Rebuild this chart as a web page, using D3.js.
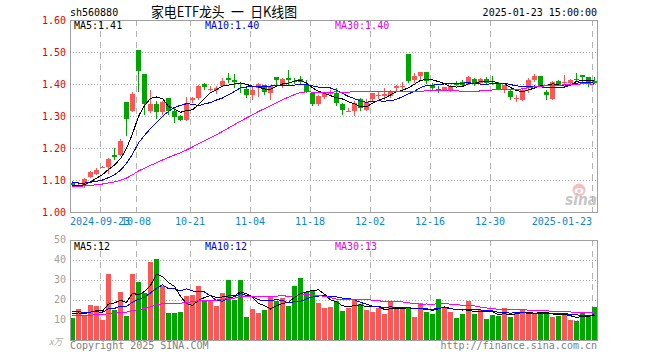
<!DOCTYPE html>
<html>
<head>
<meta charset="utf-8">
<script src="https://cdn.jsdelivr.net/npm/d3@7"></script>
<style>
  body { margin: 0; background: #fff; }
  svg { display: block; }
  text { font-family: "DejaVu Sans Mono", "Liberation Mono", monospace; font-size: 10px; }
</style>
</head>
<body>
<div id="chart"></div>
<script>
// 家电ETF龙头 (sh560880) daily K-line, 2024-09-12 .. 2025-01-23

// daily prices (open / high / low / close)
const openP = [1.092,1.083,1.080,1.109,1.120,1.139,1.141,1.179,1.179,1.344,
  1.315,1.507,1.432,1.315,1.339,1.311,1.356,1.315,1.301,1.286,
  1.351,1.356,1.401,1.381,1.382,1.393,1.418,1.411,1.403,1.385,
  1.365,1.389,1.398,1.372,1.422,1.398,1.419,1.409,1.417,1.397,
  1.372,1.339,1.358,1.371,1.372,1.339,1.314,1.315,1.354,1.320,
  1.354,1.366,1.361,1.361,1.387,1.394,1.495,1.412,1.426,1.437,
  1.398,1.385,1.380,1.377,1.401,1.407,1.400,1.417,1.403,1.417,
  1.404,1.403,1.385,1.379,1.355,1.351,1.388,1.411,1.426,1.375,
  1.354,1.410,1.405,1.403,1.417,1.429,1.421,1.408];
const highP = [1.097,1.087,1.106,1.127,1.137,1.143,1.169,1.200,1.228,1.344,
  1.374,1.507,1.432,1.381,1.346,1.346,1.356,1.325,1.304,1.359,
  1.359,1.398,1.403,1.393,1.394,1.419,1.434,1.431,1.403,1.387,
  1.393,1.403,1.398,1.398,1.422,1.419,1.445,1.419,1.426,1.413,
  1.372,1.367,1.375,1.382,1.388,1.341,1.325,1.348,1.356,1.353,
  1.372,1.377,1.387,1.380,1.398,1.405,1.495,1.434,1.439,1.437,
  1.403,1.393,1.390,1.398,1.410,1.413,1.424,1.419,1.419,1.421,
  1.424,1.405,1.398,1.382,1.367,1.388,1.419,1.431,1.426,1.380,
  1.410,1.413,1.429,1.416,1.434,1.429,1.421,1.421];
const lowP = [1.080,1.079,1.075,1.106,1.117,1.136,1.120,1.164,1.176,1.237,
  1.312,1.374,1.304,1.310,1.290,1.304,1.302,1.278,1.283,1.283,
  1.340,1.351,1.380,1.377,1.370,1.391,1.403,1.388,1.372,1.356,
  1.351,1.359,1.365,1.351,1.398,1.387,1.398,1.401,1.398,1.372,
  1.330,1.330,1.353,1.364,1.330,1.304,1.311,1.301,1.317,1.317,
  1.346,1.354,1.351,1.356,1.375,1.380,1.403,1.403,1.413,1.400,
  1.382,1.372,1.377,1.374,1.393,1.393,1.398,1.393,1.398,1.401,
  1.398,1.382,1.372,1.351,1.343,1.346,1.372,1.405,1.390,1.351,
  1.351,1.393,1.398,1.396,1.406,1.405,1.390,1.400];
const closeP = [1.085,1.084,1.103,1.124,1.132,1.141,1.166,1.171,1.223,1.291,
  1.370,1.440,1.337,1.339,1.311,1.345,1.315,1.297,1.289,1.340,
  1.356,1.395,1.390,1.383,1.389,1.409,1.413,1.406,1.400,1.365,
  1.382,1.400,1.375,1.395,1.414,1.416,1.414,1.407,1.406,1.374,
  1.339,1.361,1.372,1.372,1.341,1.320,1.316,1.341,1.325,1.344,
  1.372,1.367,1.369,1.377,1.393,1.395,1.408,1.424,1.437,1.408,
  1.388,1.381,1.390,1.393,1.400,1.398,1.421,1.403,1.416,1.403,
  1.403,1.385,1.396,1.358,1.357,1.382,1.414,1.426,1.393,1.365,
  1.405,1.398,1.406,1.414,1.416,1.421,1.405,1.403];

// daily volume, 万
const volume = [11.2,15.5,12.2,17.5,17.2,10.0,33.0,15.0,24.0,12.0,
  33.0,29.0,23.3,39.0,40.5,27.0,13.7,13.7,14.2,22.2,
  22.5,27.2,20.0,19.7,17.0,23.7,30.0,20.0,30.0,11.5,
  15.7,13.7,15.0,21.7,19.5,21.2,17.0,27.0,31.0,24.2,
  24.5,18.7,16.2,16.7,19.5,14.5,15.8,20.0,18.0,15.0,
  14.2,16.2,13.0,19.5,15.5,15.5,16.7,11.7,18.7,14.2,
  13.0,20.5,16.7,14.2,11.2,13.0,19.5,13.0,15.0,10.5,
  12.5,12.0,16.0,11.7,13.3,15.5,13.3,13.0,13.3,13.7,
  11.7,12.0,13.3,10.0,9.5,14.2,12.0,16.7];

// sessions before the window (estimated, only feed the moving averages)
const histClose = [1.070,1.072,1.075,1.073,1.071,1.069,1.072,1.074,1.076,1.073,
  1.071,1.074,1.077,1.078,1.075,1.073,1.076,1.078,1.079,1.074,
  1.098,1.104,1.102,1.099,1.102,1.090,1.085,1.080,1.075];
const histVolume = [10.5,11.5,12.0,10.0,11.0,10.5,12.5,11.0,10.0,11.5,
  11.0,10.5,12.0,11.5,10.0,11.0,11.5,10.5,11.0,11.0,
  14.0,16.0,15.5,14.5,15.0,13.0,14.5,12.8,13.5];

// x axis ticks (index into the daily arrays)
const tickIdx = [5, 11, 20, 30, 40, 50, 60, 70, 87];
const tickLabels = ['2024-09-23', '10-08', '10-21', '11-04', '11-18', '12-02', '12-16', '12-30', '2025-01-23'];

const priceTicks = [1.00, 1.10, 1.20, 1.30, 1.40, 1.50, 1.60];
const volTicks = [10, 20, 30, 40, 50];

const maPeriods = [5, 10, 30];
const maColors = ['#000000', '#0000ff', '#ff00ff'];
const maLabelColors = ['#000000', '#0000e6', '#e600e6'];

const UP = '#fd5656', DOWN = '#00a600';
const GRID = '#a8a8a8', FRAME = '#a0a0a0';

const W = 660, H = 360;
const L = 70, R = 598;
const mainTop = 20, mainBot = 212;
const volTop = 240, volBot = 340;

function movingAvg(hist, vals, n) {
    const all = hist.concat(vals);
    return vals.map((_, i) => d3.mean(all.slice(hist.length + i - n + 1, hist.length + i + 1)));
}

const svg = d3.select('#chart').append('svg')
    .attr('width', W)
    .attr('height', H);

const x = d3.scaleBand()
    .domain(d3.range(closeP.length))
    .range([L, R])
    .paddingInner(1 / 6)
    .paddingOuter(1 / 12)
    .align(0);
const bw = x.bandwidth();

const yP = d3.scaleLinear().domain([1.0, 1.6]).range([mainBot, mainTop]);
const yV = d3.scaleLinear().domain([0, 50]).range([volBot, volTop]);

const isUp = i => closeP[i] >= openP[i];

// header
svg.append('text')
    .attr('x', L).attr('y', 16)
    .attr('fill', '#000')
    .text('sh560880');

svg.append('text')
    .attr('x', 151).attr('y', 17)
    .attr('textLength', 146)
    .attr('lengthAdjust', 'spacingAndGlyphs')
    .style('font-family', '"Noto Sans CJK SC", sans-serif')
    .style('font-size', '14px')
    .attr('fill', '#000')
    .text('家电ETF龙头\u2002一\u2002日K线图');

svg.append('text')
    .attr('x', R - 1).attr('y', 16)
    .attr('text-anchor', 'end')
    .attr('fill', '#000')
    .text('2025-01-23 15:00:00');

// grids for both panels
function drawGrid(top, bot, yTicks, yScale) {
    const g = svg.append('g').attr('shape-rendering', 'crispEdges');
    g.selectAll('line.h')
        .data(yTicks.filter(v => yScale(v) > top + 1 && yScale(v) < bot - 1))
        .enter().append('line')
        .attr('x1', L).attr('x2', R)
        .attr('y1', d => Math.round(yScale(d)) + 0.5)
        .attr('y2', d => Math.round(yScale(d)) + 0.5)
        .attr('stroke', GRID)
        .attr('stroke-dasharray', '1,2');
    g.selectAll('line.v')
        .data(tickIdx)
        .enter().append('line')
        .attr('x1', d => x(d) + 0.5).attr('x2', d => x(d) + 0.5)
        .attr('y1', top).attr('y2', bot)
        .attr('stroke', '#b4b4b4')
        .attr('stroke-dasharray', '6,5');
}

drawGrid(mainTop, mainBot, priceTicks, yP);
drawGrid(volTop, volBot, volTicks, yV);

// candles
const candles = svg.append('g').attr('shape-rendering', 'crispEdges');
const idx = d3.range(closeP.length);

candles.selectAll('rect.wick')
    .data(idx)
    .enter().append('rect')
    .attr('x', i => x(i) + 2)
    .attr('width', 1)
    .attr('y', i => Math.round(yP(highP[i])))
    .attr('height', i => Math.max(1, Math.round(yP(lowP[i])) - Math.round(yP(highP[i]))))
    .attr('fill', i => isUp(i) ? UP : DOWN);

candles.selectAll('rect.body')
    .data(idx)
    .enter().append('rect')
    .attr('x', i => x(i))
    .attr('width', bw)
    .attr('y', i => Math.round(yP(Math.max(openP[i], closeP[i]))))
    .attr('height', i => Math.max(1, Math.round(yP(Math.min(openP[i], closeP[i]))) - Math.round(yP(Math.max(openP[i], closeP[i])))))
    .attr('fill', i => isUp(i) ? UP : DOWN);

// volume bars
svg.append('g').attr('shape-rendering', 'crispEdges')
    .selectAll('rect')
    .data(idx)
    .enter().append('rect')
    .attr('x', i => x(i))
    .attr('width', bw)
    .attr('y', i => Math.round(yV(volume[i])))
    .attr('height', i => volBot - Math.round(yV(volume[i])))
    .attr('fill', i => isUp(i) ? UP : DOWN);

// moving averages
const priceMA = maPeriods.map(n => movingAvg(histClose, closeP, n));
const volMA = maPeriods.map(n => movingAvg(histVolume, volume, n));

function drawMA(series, yScale) {
    const line = d3.line()
        .x((d, i) => x(i) + 2.5)
        .y(d => yScale(d));
    svg.append('g')
        .selectAll('path')
        .data(series)
        .enter().append('path')
        .attr('d', d => line(d))
        .attr('fill', 'none')
        .attr('stroke', (d, k) => maColors[k])
        .attr('stroke-width', 1)
        .attr('shape-rendering', 'crispEdges');
}

drawMA(priceMA, yP);
drawMA(volMA, yV);

// sina watermark
const logo = svg.append('g').attr('opacity', 0.75);
logo.append('circle').attr('cx', 579).attr('cy', 190).attr('r', 6.5).attr('fill', '#f3a9a9');
logo.append('ellipse').attr('cx', 579).attr('cy', 191).attr('rx', 4.5).attr('ry', 3).attr('fill', '#fff');
logo.append('circle').attr('cx', 579).attr('cy', 191).attr('r', 1.8).attr('fill', '#f3a9a9');
logo.append('text')
    .attr('x', 565).attr('y', 205)
    .attr('textLength', 32)
    .attr('lengthAdjust', 'spacingAndGlyphs')
    .style('font-family', '"DejaVu Sans", sans-serif')
    .style('font-size', '16px')
    .style('font-weight', 'bold')
    .style('font-style', 'italic')
    .attr('fill', '#b4b4b4')
    .text('sina');

// frames
const frames = svg.append('g').attr('shape-rendering', 'crispEdges');
[[mainTop, mainBot], [volTop, volBot]].forEach(([t, b]) => {
    frames.append('rect')
        .attr('x', L + 0.5).attr('y', t + 0.5)
        .attr('width', R - L - 1).attr('height', b - t)
        .attr('fill', 'none')
        .attr('stroke', FRAME);
});

// y axis labels
svg.append('g').selectAll('text')
    .data(priceTicks)
    .enter().append('text')
    .attr('x', L - 4)
    .attr('y', d => yP(d) + 4)
    .attr('text-anchor', 'end')
    .attr('fill', '#e60000')
    .text(d => d.toFixed(2));

svg.append('g').selectAll('text')
    .data(volTicks)
    .enter().append('text')
    .attr('x', L - 4)
    .attr('y', d => yV(d) + 3)
    .attr('text-anchor', 'end')
    .attr('fill', '#a0a0a0')
    .text(d => d);

svg.append('text')
    .attr('x', 49).attr('y', 345)
    .style('font-family', '"Noto Sans CJK SC", sans-serif')
    .style('font-size', '9px')
    .style('font-style', 'italic')
    .attr('fill', '#b0b0b0')
    .text('x万');

// x axis labels
svg.append('g').selectAll('text')
    .data(tickIdx)
    .enter().append('text')
    .attr('x', d => x(d))
    .attr('y', 225)
    .attr('text-anchor', (d, k) => k === tickIdx.length - 1 ? 'end' : 'middle')
    .attr('fill', '#0a86d2')
    .text((d, k) => tickLabels[k]);

// MA legends
const legendX = [74, 205, 335];
const last = closeP.length - 1;
svg.append('g').selectAll('text')
    .data(maPeriods)
    .enter().append('text')
    .attr('x', (d, k) => legendX[k])
    .attr('y', 29)
    .attr('fill', (d, k) => maLabelColors[k])
    .text((d, k) => 'MA' + d + ':' + priceMA[k][last].toFixed(2));

svg.append('g').selectAll('text')
    .data(maPeriods)
    .enter().append('text')
    .attr('x', (d, k) => legendX[k])
    .attr('y', 250)
    .attr('fill', (d, k) => maLabelColors[k])
    .text((d, k) => 'MA' + d + ':' + Math.floor(volMA[k][last]));

// footer
svg.append('text')
    .attr('x', L).attr('y', 349)
    .attr('fill', '#808080')
    .text('Copyright 2025 SINA.COM');

svg.append('text')
    .attr('x', R - 1).attr('y', 349)
    .attr('text-anchor', 'end')
    .attr('fill', '#808080')
    .text('http://finance.sina.com.cn');
</script>
</body>
</html>
